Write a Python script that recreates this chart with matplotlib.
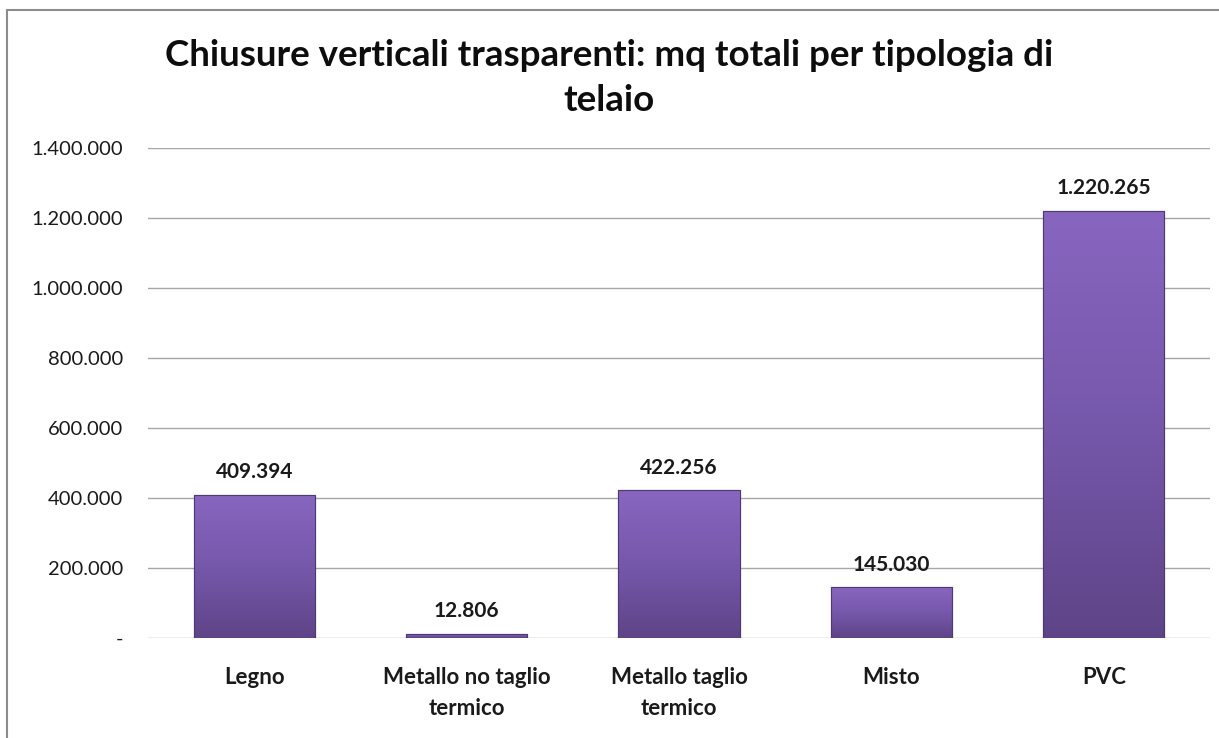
import numpy as np
import matplotlib
matplotlib.use("Agg")
import matplotlib.pyplot as plt
from matplotlib.patches import Rectangle
from matplotlib.colors import LinearSegmentedColormap
from matplotlib.ticker import FuncFormatter, MultipleLocator

plt.rcParams['font.family'] = ['Lato', 'DejaVu Sans']

categories = ["Legno", "Metallo no taglio\ntermico", "Metallo taglio\ntermico", "Misto", "PVC"]
values = [409394, 12806, 422256, 145030, 1220265]
title = "Chiusure verticali trasparenti: mq totali per tipologia di\ntelaio"


def it_fmt(v, pos=None):
    if v == 0:
        return "-"
    return f"{int(round(v)):,}".replace(",", ".")


fig = plt.figure(figsize=(12.19, 7.38), dpi=100)
fig.patches.append(Rectangle((7 / 1219, -0.01), 1.0, 1 - 10 / 738 + 0.01,
                             transform=fig.transFigure, fill=False,
                             edgecolor="#8c8c8c", linewidth=1.5))

ax = fig.add_axes([148 / 1219, 1 - 638 / 738, 1062 / 1219, 490 / 738])
ax.set_xlim(-0.5, len(categories) - 0.5)
ax.set_ylim(0, 1400000)

# vertical gradient inside each bar, roughly like the Excel bevel style
cmap = LinearSegmentedColormap.from_list("purp", ["#5e4487", "#7658ab", "#8866c0"])
grad = np.linspace(0, 1, 256).reshape(-1, 1)
width = 0.57
x = np.arange(len(categories))
bars = ax.bar(x, values, width=width, color="#7458a8", edgecolor="#4e3a70",
              linewidth=0.8, zorder=3)
for b in bars:
    x0, y0 = b.get_x(), b.get_y()
    im = ax.imshow(grad, extent=[x0, x0 + b.get_width(), y0, y0 + b.get_height()],
                   origin="lower", cmap=cmap, aspect="auto", zorder=3.5)
    im.set_clip_path(b)
    ax.add_patch(Rectangle((x0, y0), b.get_width(), b.get_height(), fill=False,
                           edgecolor="#4e3a70", linewidth=0.8, zorder=4))
    ax.annotate(it_fmt(b.get_height()), (x0 + b.get_width() / 2, y0 + b.get_height()),
                xytext=(0, 9), textcoords="offset points", ha="center", va="bottom",
                fontsize=15, fontweight="bold", color="#1a1a1a")

ax.yaxis.set_major_locator(MultipleLocator(200000))
ax.yaxis.set_major_formatter(FuncFormatter(it_fmt))
ax.grid(axis="y", color="#a6a6a6", linewidth=1.0, zorder=0)
ax.set_axisbelow(True)
for s in ax.spines.values():
    s.set_visible(False)
ax.set_xticks(x)
ax.set_xticklabels(categories, fontsize=16, fontweight="bold", color="#1a1a1a",
                   linespacing=1.55)
ax.tick_params(axis="x", length=0, pad=21)
ax.tick_params(axis="y", length=0, pad=18, labelsize=14.5, labelcolor="#1a1a1a")

fig.text(0.5, 1 - 78 / 738, title, ha="center", va="center", fontsize=26.5,
         fontweight="bold", linespacing=1.45, color="#0d0d0d")

fig.savefig("out.png", dpi=100)
